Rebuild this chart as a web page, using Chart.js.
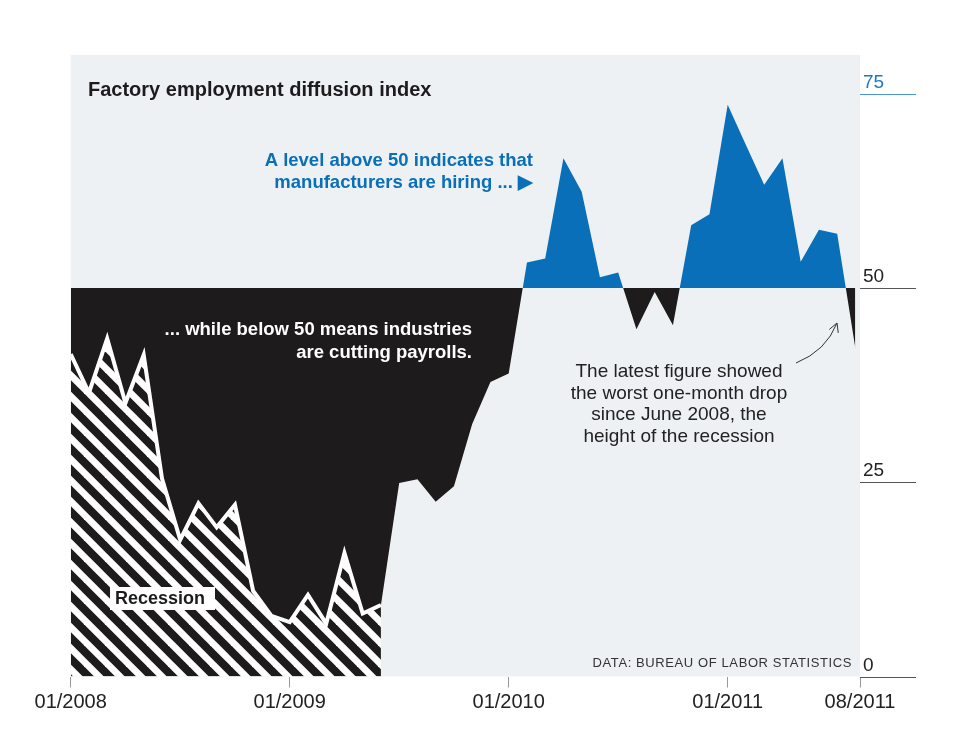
<!DOCTYPE html>
<html>
<head>
<meta charset="utf-8">
<script src="https://cdn.jsdelivr.net/npm/chart.js@4"></script>
<style>
  html, body { margin: 0; background: #fff; }
</style>
</head>
<body>
<canvas id="chart" width="960" height="750"></canvas>
<script>
const FONT = '"Liberation Sans", Arial, Helvetica, sans-serif';
const BLUE = "#0a6fb9";
const INK = "#1e1b1c";
const PANEL = "#edf1f4";

// monthly diffusion index, 01/2008 .. 08/2011
const diffusion = [
  41.5, 36.5, 43.5, 35.2, 41.4, 25.5, 17.6, 22.3, 19.2, 22.1,
  11.0, 7.8, 7.0, 10.5, 6.8, 15.9, 8.1, 9.2, 24.9, 25.4,
  22.5, 24.5, 32.5, 37.9, 39.0, 53.3, 53.8, 66.7, 62.4, 51.4,
  52.0, 44.7, 49.5, 45.2, 58.1, 59.5, 73.6, 68.4, 63.3, 66.7,
  53.4, 57.5, 57.0, 42.2,
];
const recessionEnd = "06/2009";
const tickLabels = ["01/2008", "01/2009", "01/2010", "01/2011", "08/2011"];
const yTicks = [0, 25, 50, 75];

const months = [];
for (let y = 2008; y <= 2011; y++) {
  for (let m = 1; m <= 12; m++) {
    if (y === 2011 && m > 8) break;
    months.push(String(m).padStart(2, "0") + "/" + y);
  }
}
const recEndIdx = months.indexOf(recessionEnd);
const indexPoints = diffusion.map((v, i) => ({ x: i, y: v }));
const recessionPoints = indexPoints.filter((p) => p.x <= recEndIdx);
const tickIdx = tickLabels.map((l) => months.indexOf(l));
const lastIdx = months.length - 1;

function makeHatch() {
  const size = 21;
  const c = document.createElement("canvas");
  c.width = size;
  c.height = size;
  const g = c.getContext("2d");
  g.fillStyle = "#fff";
  g.fillRect(0, 0, size, size);
  g.strokeStyle = INK;
  g.lineWidth = 8;
  for (const k of [-1, 0, 1]) {
    g.beginPath();
    g.moveTo(-5, -5 + k * size);
    g.lineTo(size + 5, size + 5 + k * size);
    g.stroke();
  }
  return g.createPattern(c, "repeat");
}

const panel = {
  id: "panel",
  beforeDraw(chart) {
    const { ctx, chartArea: a } = chart;
    ctx.save();
    ctx.fillStyle = PANEL;
    ctx.fillRect(a.left, a.top, a.right - a.left, a.bottom - a.top);
    ctx.restore();
  },
};

const notes = {
  id: "notes",
  afterDraw(chart) {
    const { ctx, chartArea: a } = chart;
    const y = chart.scales.y;
    ctx.save();

    // right hand value axis
    yTicks.forEach((v) => {
      const py = Math.round(y.getPixelForValue(v)) + 0.5;
      ctx.strokeStyle = v === 75 ? "#4d92d0" : "#555";
      ctx.lineWidth = 1;
      ctx.beginPath();
      ctx.moveTo(a.right, py);
      ctx.lineTo(a.right + 56, py);
      ctx.stroke();
      ctx.fillStyle = v === 75 ? "#1e78c0" : "#222";
      ctx.font = "19px " + FONT;
      ctx.textAlign = "left";
      ctx.textBaseline = "alphabetic";
      ctx.fillText(String(v), a.right + 3, py - 6.5);
    });

    ctx.fillStyle = INK;
    ctx.font = "bold 20px " + FONT;
    ctx.textAlign = "left";
    ctx.fillText("Factory employment diffusion index", 88, 96);

    ctx.fillStyle = BLUE;
    ctx.font = "bold 18.5px " + FONT;
    ctx.textAlign = "right";
    ctx.fillText("A level above 50 indicates that", 533, 165.5);
    ctx.fillText("manufacturers are hiring ... \u25B6", 533, 187.5);

    ctx.fillStyle = "#fff";
    ctx.fillText("... while below 50 means industries", 472, 334.5);
    ctx.fillText("are cutting payrolls.", 472, 357.5);

    ctx.fillStyle = "#222";
    ctx.font = "19px " + FONT;
    ctx.textAlign = "center";
    ["The latest figure showed", "the worst one-month drop",
     "since June 2008, the", "height of the recession"].forEach((t, i) => {
      ctx.fillText(t, 679, 377 + i * 21.6);
    });

    // arrow to the last month
    ctx.strokeStyle = "#333";
    ctx.lineWidth = 1;
    ctx.beginPath();
    ctx.moveTo(796, 363);
    ctx.quadraticCurveTo(826, 351, 837, 323);
    ctx.stroke();
    const ang = Math.atan2(323 - 351, 837 - 826);
    ctx.beginPath();
    ctx.moveTo(837 - 10 * Math.cos(ang - 0.5), 323 - 10 * Math.sin(ang - 0.5));
    ctx.lineTo(837, 323);
    ctx.lineTo(837 - 10 * Math.cos(ang + 0.5), 323 - 10 * Math.sin(ang + 0.5));
    ctx.stroke();

    // recession tag
    ctx.fillStyle = "#fff";
    ctx.fillRect(110, 587, 105, 23);
    ctx.fillStyle = INK;
    ctx.font = "bold 18px " + FONT;
    ctx.textAlign = "left";
    ctx.fillText("Recession", 115, 603.5);

    ctx.fillStyle = "#333";
    ctx.font = "13px " + FONT;
    ctx.textAlign = "right";
    ctx.letterSpacing = "0.6px";
    ctx.fillText("DATA: BUREAU OF LABOR STATISTICS", 852, 667);
    ctx.letterSpacing = "0px";

    ctx.restore();
  },
};

new Chart(document.getElementById("chart"), {
  type: "line",
  data: {
    datasets: [
      {
        label: "Recession",
        data: recessionPoints,
        order: 0,
        fill: "origin",
        backgroundColor: makeHatch(),
        borderColor: "#fff",
        borderWidth: 4,
        pointRadius: 0,
        tension: 0,
      },
      {
        label: "Diffusion index",
        data: indexPoints,
        order: 1,
        fill: { target: { value: 50 }, above: BLUE, below: INK },
        borderColor: "rgba(0,0,0,0)",
        borderWidth: 0,
        pointRadius: 0,
        tension: 0,
      },
    ],
  },
  options: {
    responsive: false,
    animation: false,
    layout: { padding: { left: 70.7, right: 100, top: 55, bottom: 28.5 } },
    plugins: {
      legend: { display: false },
      tooltip: { enabled: false },
    },
    scales: {
      x: {
        type: "linear",
        min: 0,
        max: lastIdx + 0.25,
        grid: { drawOnChartArea: false, tickLength: 11, color: "#999", lineWidth: 1 },
        border: { display: false },
        ticks: {
          autoSkip: false,
          maxRotation: 0,
          padding: 3,
          color: "#222",
          font: { family: FONT, size: 20 },
          callback: (v) => (v >= lastIdx ? months[lastIdx] : months[v]),
        },
        afterBuildTicks: (s) => {
          // the closing tick marks the end of the axis
          s.ticks = tickIdx.map((v) => ({ value: v === lastIdx ? s.max : v }));
        },
        afterFit: (s) => {
          s.height = 45;
        },
      },
      y: {
        display: false,
        min: 0,
        max: 80,
      },
    },
  },
  plugins: [panel, notes],
});
</script>
</body>
</html>
